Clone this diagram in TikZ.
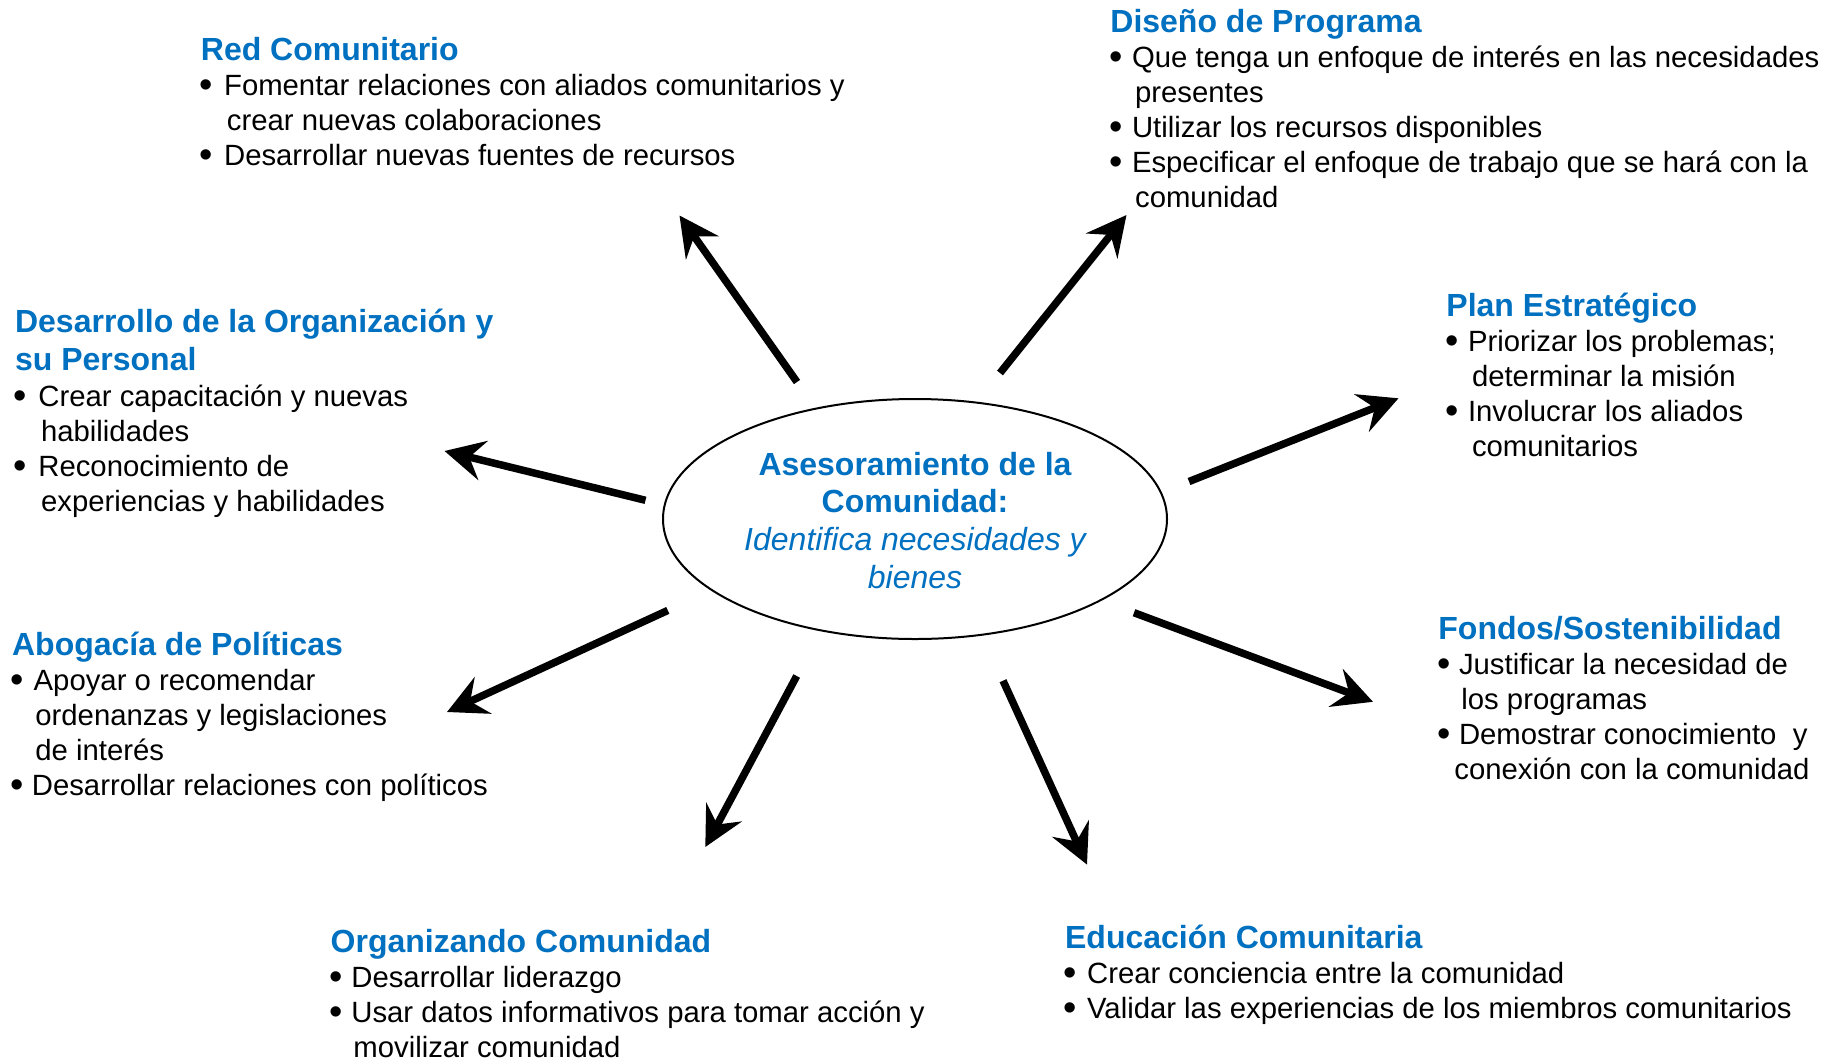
\documentclass[tikz,border=0pt]{standalone}
\usepackage{fontspec}
\setmainfont{Liberation Sans}
\usetikzlibrary{arrows.meta,shapes.geometric}
\definecolor{hblue}{HTML}{0070C0}
\newcommand\hd[1]{\smash{\fontsize{16}{17.5}\selectfont\bfseries\color{hblue}#1}}
\newcommand\bdot{\raisebox{-1.3pt}{\fontsize{19}{19}\selectfont\textbullet}}
\newcommand\bi[2]{\makebox[#1][l]{\hspace*{-0.6pt}\bdot}#2}
\newcommand\ci[2]{\hspace*{#1}#2}
\begin{document}
\begin{tikzpicture}[x=0.5pt,y=-0.5pt,
  blk/.style={inner sep=0pt, anchor=base west, font=\fontsize{14.65}{17.5}\selectfont},
  arr/.style={line width=3.75pt, -{Stealth[length=19.75pt, width=20pt, inset=7pt]}},
  hub/.style={ellipse, draw, line width=1pt, inner sep=0pt, minimum width=252pt, minimum height=120pt}]
\useasboundingbox (0,0) rectangle (1837,1061);
\fill[white] (0,0) rectangle (1837,1061);

% centre
\node[hub] (hub) at (915,519) {};
\node[inner sep=0pt, anchor=base, font=\fontsize{16}{18.9}\selectfont, text=hblue] (hubtext) at (915,475)
  {\begin{tabular}[t]{@{}c@{}}\bfseries Asesoramiento de la\\ \bfseries Comunidad:\\ \itshape Identifica necesidades y\\ \itshape bienes\end{tabular}};

% blocks
\node[blk] (red) at (200.5,60) {\begin{tabular}[t]{@{}l@{}}
\hd{Red Comunitario}\\
\bi{11.6pt}{Fomentar relaciones con aliados comunitarios y}\\
\ci{13pt}{crear nuevas colaboraciones}\\
\bi{11.6pt}{Desarrollar nuevas fuentes de recursos}
\end{tabular}};

\node[blk] (dis) at (1110,32) {\begin{tabular}[t]{@{}l@{}}
\hd{Diseño de Programa}\\
\bi{10.8pt}{Que tenga un enfoque de interés en las necesidades}\\
\ci{12.35pt}{presentes}\\
\bi{10.8pt}{Utilizar los recursos disponibles}\\
\bi{10.8pt}{Especificar el enfoque de trabajo que se hará con la}\\
\ci{12.35pt}{comunidad}
\end{tabular}};

\node[blk] (des) at (14.7,332) {\begin{tabular}[t]{@{}l@{}}
\hd{Desarrollo de la Organización y}\\[1.5pt]
\hd{su Personal}\\[0.5pt]
\bi{11.65pt}{Crear capacitación y nuevas}\\
\ci{13pt}{habilidades}\\
\bi{11.65pt}{Reconocimiento de}\\
\ci{13pt}{experiencias y habilidades}
\end{tabular}};

\node[blk] (abo) at (11.7,655) {\begin{tabular}[t]{@{}l@{}}
\hd{Abogacía de Políticas}\\
\bi{10.8pt}{Apoyar o recomendar}\\
\ci{11.65pt}{ordenanzas y legislaciones}\\
\ci{11.65pt}{de interés}\\
\bi{9.9pt}{Desarrollar relaciones con políticos}
\end{tabular}};

\node[blk] (org) at (330.3,952) {\begin{tabular}[t]{@{}l@{}}
\hd{Organizando Comunidad}\\
\bi{10.35pt}{Desarrollar liderazgo}\\
\bi{10.35pt}{Usar datos informativos para tomar acción y}\\
\ci{11.35pt}{movilizar comunidad}
\end{tabular}};

\node[blk] (edu) at (1064.7,948) {\begin{tabular}[t]{@{}l@{}}
\hd{Educación Comunitaria}\\
\bi{11pt}{Crear conciencia entre la comunidad}\\
\bi{11pt}{Validar las experiencias de los miembros comunitarios}
\end{tabular}};

\node[blk] (fon) at (1438,639) {\begin{tabular}[t]{@{}l@{}}
\hd{Fondos/Sostenibilidad}\\
\bi{10.3pt}{Justificar la necesidad de}\\
\ci{11.5pt}{los programas}\\
\bi{10.3pt}{Demostrar conocimiento~ y}\\
\ci{8pt}{conexión con la comunidad}
\end{tabular}};

\node[blk] (pla) at (1446,316) {\begin{tabular}[t]{@{}l@{}}
\hd{Plan Estratégico}\\
\bi{10.8pt}{Priorizar los problemas;}\\
\ci{12.8pt}{determinar la misión}\\
\bi{10.8pt}{Involucrar los aliados}\\
\ci{12.8pt}{comunitarios}
\end{tabular}};

% arrow ends
\coordinate (s1) at (797,382);    \coordinate (t1) at (679.5,215.5);
\coordinate (s2) at (1000,373);   \coordinate (t2) at (1126.5,215);
\coordinate (s3) at (1189,481.5); \coordinate (t3) at (1398.5,398.3);
\coordinate (s4) at (1134,612.7); \coordinate (t4) at (1373,701.8);
\coordinate (s5) at (1003,680.7); \coordinate (t5) at (1087,864.6);
\coordinate (s6) at (796.7,676);  \coordinate (t6) at (705.3,847);
\coordinate (s7) at (667.8,610.4);\coordinate (t7) at (447,712);
\coordinate (s8) at (645.5,500.3);\coordinate (t8) at (444.5,451);

\foreach \i in {1,...,8} \draw[arr] (s\i) -- (t\i);
\end{tikzpicture}
\end{document}
